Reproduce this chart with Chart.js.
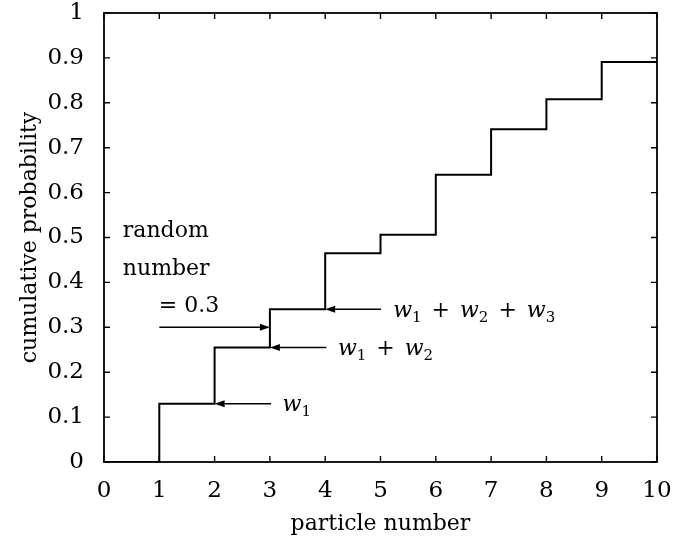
<!DOCTYPE html>
<html>
<head>
<meta charset="utf-8">
<title>Cumulative probability</title>
<script src="https://cdn.jsdelivr.net/npm/chart.js@4.4.0/dist/chart.umd.min.js"></script>
<style>
    html, body { margin: 0; padding: 0; background: #fff; }
</style>
</head>
<body>
<canvas id="cdf" width="678" height="546"></canvas>
<script>
// step levels: value on [i, i+1] is cumProb[i]; last point closes the line at x = 10
const particles = [0, 1, 2, 3, 4, 5, 6, 7, 8, 9, 10];
const cumProb = [0, 0.13, 0.255, 0.34, 0.465, 0.506, 0.64, 0.741, 0.808, 0.891, 0.891];
const xTicks = [0, 1, 2, 3, 4, 5, 6, 7, 8, 9, 10];
const yTicks = [0, 0.1, 0.2, 0.3, 0.4, 0.5, 0.6, 0.7, 0.8, 0.9, 1];

// arrows in data units: [fromX, fromY, toX, toY]
const arrows = [
    [3.02, cumProb[1], 2, cumProb[1]],
    [4.02, cumProb[2], 3, cumProb[2]],
    [5.01, cumProb[3], 4, cumProb[3]],
    [1, 0.3, 3, 0.3]
];
// w-sum labels: left x, baseline y, subscripts
const sumLabels = [
    [3.23, 0.114, [1]],
    [4.23, 0.239, [1, 2]],
    [5.23, 0.322, [1, 2, 3]]
];
const noteLines = [
    ['random', 0.34, 0.502],
    ['number', 0.34, 0.416],
    ['= 0.3', 0.99, 0.335]
];

const FONT = '"DejaVu Serif", "Liberation Serif", serif';
Chart.defaults.font.family = FONT;
Chart.defaults.font.size = 22;
Chart.defaults.color = '#000';

function drawSum(ctx, x, y, subs) {
    let cx = x;
    subs.forEach((n, i) => {
        if (i > 0) {
            ctx.font = '22px ' + FONT;
            cx += 3;
            ctx.fillText(' + ', cx, y);
            cx += ctx.measureText(' + ').width + 3;
        }
        ctx.font = 'italic 22px ' + FONT;
        ctx.fillText('w', cx, y);
        cx += ctx.measureText('w').width;
        ctx.font = '15px ' + FONT;
        ctx.fillText(String(n), cx, y + 5);
        cx += ctx.measureText(String(n)).width;
    });
}

const framePlugin = {
    id: 'frame',
    afterDatasetsDraw(chart) {
        const ctx = chart.ctx;
        const a = chart.chartArea;
        const xs = chart.scales.x, ys = chart.scales.y;
        const tick = 6;
        ctx.save();
        ctx.strokeStyle = '#000';
        ctx.fillStyle = '#000';
        ctx.lineWidth = 1.8;
        ctx.strokeRect(a.left, a.top, a.right - a.left, a.bottom - a.top);

        // inward ticks on all four sides
        ctx.lineWidth = 1.4;
        ctx.beginPath();
        xTicks.forEach(v => {
            const px = xs.getPixelForValue(v);
            ctx.moveTo(px, a.bottom); ctx.lineTo(px, a.bottom - tick);
            ctx.moveTo(px, a.top); ctx.lineTo(px, a.top + tick);
        });
        yTicks.forEach(v => {
            const py = ys.getPixelForValue(v);
            ctx.moveTo(a.left, py); ctx.lineTo(a.left + tick, py);
            ctx.moveTo(a.right, py); ctx.lineTo(a.right - tick, py);
        });
        ctx.stroke();

        // arrows
        ctx.lineWidth = 1.5;
        arrows.forEach(([x0, y0, x1, y1]) => {
            const p0x = xs.getPixelForValue(x0), p0y = ys.getPixelForValue(y0);
            const p1x = xs.getPixelForValue(x1), p1y = ys.getPixelForValue(y1);
            const dir = Math.sign(p1x - p0x);
            const head = 10;
            ctx.beginPath();
            ctx.moveTo(p0x, p0y);
            ctx.lineTo(p1x - dir * head, p1y);
            ctx.stroke();
            ctx.beginPath();
            ctx.moveTo(p1x, p1y);
            ctx.lineTo(p1x - dir * head, p1y - 3.5);
            ctx.lineTo(p1x - dir * head, p1y + 3.5);
            ctx.closePath();
            ctx.fill();
        });

        // text notes
        ctx.textAlign = 'left';
        ctx.textBaseline = 'alphabetic';
        noteLines.forEach(([t, x, y]) => {
            ctx.font = '22px ' + FONT;
            ctx.fillText(t, xs.getPixelForValue(x), ys.getPixelForValue(y));
        });
        sumLabels.forEach(([x, y, subs]) => {
            drawSum(ctx, xs.getPixelForValue(x), ys.getPixelForValue(y), subs);
        });
        ctx.restore();
    }
};

// keep chart area fixed: no extra room reserved for label overhang
function noPad(s) {
    s.paddingTop = 0; s.paddingBottom = 0; s.paddingLeft = 0; s.paddingRight = 0;
}

new Chart(document.getElementById('cdf'), {
    type: 'line',
    data: {
        datasets: [{
            data: particles.map((p, i) => ({ x: p, y: cumProb[i] })),
            stepped: 'before',
            borderColor: '#000',
            borderWidth: 2,
            pointRadius: 0,
            fill: false
        }]
    },
    options: {
        responsive: false,
        animation: false,
        devicePixelRatio: 1,
        layout: { padding: { top: 13, right: 21, left: 0, bottom: 0 } },
        plugins: { legend: { display: false }, tooltip: { enabled: false } },
        scales: {
            x: {
                type: 'linear',
                min: 0,
                max: 10,
                afterBuildTicks: s => { s.ticks = xTicks.map(v => ({ value: v })); },
                afterFit: s => { s.height = 84; noPad(s); },
                grid: { display: false, drawTicks: false },
                border: { display: false },
                ticks: { padding: 15, maxRotation: 0, font: { size: 23 } },
                title: { display: true, text: 'particle number', padding: { top: 0, bottom: 9 } }
            },
            y: {
                type: 'linear',
                min: 0,
                max: 1,
                afterBuildTicks: s => { s.ticks = yTicks.map(v => ({ value: v })); },
                afterFit: s => { s.width = 104; noPad(s); },
                grid: { display: false, drawTicks: false },
                border: { display: false },
                ticks: { padding: 20, font: { size: 23 }, callback: v => String(v) },
                title: { display: true, text: 'cumulative probability', padding: { top: 17, bottom: 0 } }
            }
        }
    },
    plugins: [framePlugin]
});
</script>
</body>
</html>
